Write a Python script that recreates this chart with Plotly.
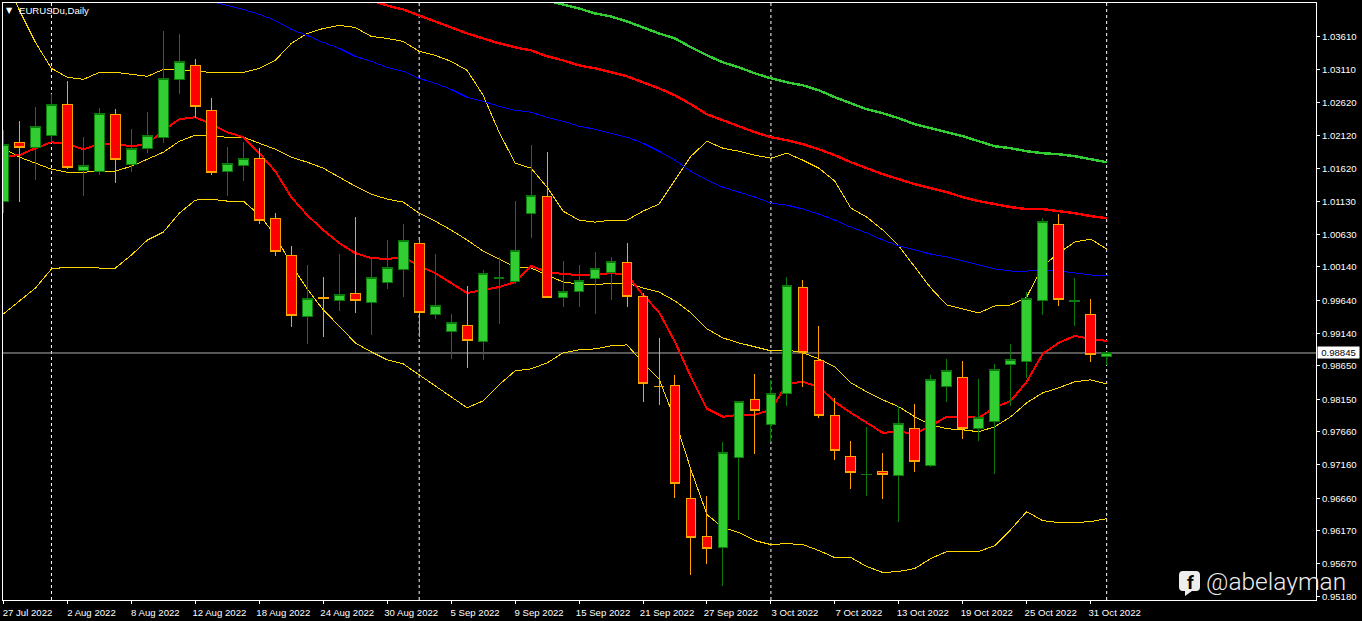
import plotly.graph_objects as go

# Daily EURUSD bars
opens = [1.01131,1.02017,1.01942,1.02123,1.02588,1.01596,1.01581,1.02438,1.01687,1.01927,
         1.02093,1.02964,1.03174,1.02498,1.01581,1.01672,1.01777,1.00875,1.00319,0.99388,
         0.99674,0.99628,0.99733,0.99598,0.99913,1.00109,1.00500,0.99418,0.99162,0.99252,
         0.99012,0.99973,0.99928,1.00950,1.01206,0.99673,0.99778,0.99959,1.00064,1.00214,
         0.99688,0.98337,0.98351,0.96653,0.96082,0.95916,0.97269,0.98140,0.97765,0.98230,
         0.99838,0.98726,0.97900,0.97284,0.97012,0.97058,0.96998,0.97705,0.97149,0.98336,
         0.98471,0.97705,0.97810,0.98666,0.98711,0.99628,1.00785,0.99627,0.99418,0.98787]
highs = [1.02198,1.02333,1.02543,1.02739,1.02934,1.02093,1.02528,1.02513,1.02213,1.02468,
         1.03685,1.03640,1.03265,1.02679,1.01942,1.02017,1.01927,1.00950,1.00455,1.00169,
         0.99989,1.00334,1.00890,1.00274,1.00545,1.00785,1.00545,1.00334,0.99433,0.99853,
         1.00094,1.00289,1.01131,1.01972,1.01867,1.00229,1.00169,1.00364,1.00289,1.00500,
         0.99748,0.99072,0.98516,0.97088,0.96698,0.97509,0.98110,0.98531,0.98441,0.99989,
         0.99943,0.99252,0.98170,0.97524,0.97735,0.97344,0.98050,0.98080,0.98516,0.98757,
         0.98726,0.98456,0.98681,0.98982,0.99763,1.00875,1.00935,0.99974,0.99658,0.98847]
lows = [1.00950,1.01116,1.01446,1.02017,1.01612,1.01206,1.01521,1.01401,1.01566,1.01852,
        1.02002,1.02739,1.02378,1.01521,1.01206,1.01431,1.00785,1.00304,0.99237,0.98982,
        0.99087,0.99478,0.99448,0.99117,0.99808,0.99688,0.99087,0.99358,0.98757,0.98621,
        0.98741,0.99282,0.99883,1.00575,0.99673,0.99538,0.99538,0.99433,0.99643,0.99538,
        0.98110,0.98065,0.96668,0.95496,0.95676,0.95345,0.96337,0.97329,0.97509,0.98050,
        0.98336,0.97870,0.97239,0.96803,0.96698,0.96653,0.96307,0.97058,0.97134,0.98110,
        0.97554,0.97524,0.97028,0.98050,0.98471,0.99418,0.99553,0.99252,0.98711,0.98666]
closes = [1.01987,1.01942,1.02258,1.02588,1.01642,1.01672,1.02453,1.01762,1.01927,1.02123,
          1.02979,1.03234,1.02558,1.01566,1.01702,1.01777,1.00845,1.00379,0.99403,0.99658,
          0.99672,0.99718,0.99628,0.99974,1.00139,1.00545,0.99448,0.99553,0.99297,0.99027,
          1.00049,0.99975,1.00394,1.01221,0.99673,0.99778,0.99943,1.00124,1.00229,0.99688,
          0.98381,0.98335,0.96878,0.96067,0.95901,0.97344,0.98110,0.97975,0.98230,0.99868,
          0.98847,0.97900,0.97374,0.97043,0.97014,0.97013,0.97780,0.97209,0.98441,0.98576,
          0.97705,0.97870,0.98591,0.98741,0.99658,1.00830,0.99643,0.99629,0.98817,0.98845]

# Indicator lines, one value per bar
fast_ma = [1.01807,1.01822,1.01927,1.02017,1.01987,1.01912,1.01987,1.01987,1.01957,1.01987,
           1.02198,1.02363,1.02393,1.02288,1.02168,1.02093,1.01852,1.01581,1.01191,1.00920,
           1.00695,1.00500,1.00349,1.00274,1.00259,1.00289,1.00154,1.00049,0.99898,0.99748,
           0.99793,0.99838,0.99913,1.00154,1.00064,1.00034,1.00019,1.00019,1.00049,1.00019,
           0.99718,0.99463,0.99012,0.98486,0.98005,0.97885,0.97915,0.97915,0.97990,0.98381,
           0.98411,0.98336,0.98110,0.97945,0.97795,0.97644,0.97659,0.97629,0.97750,0.97885,
           0.97885,0.97870,0.98020,0.98125,0.98411,0.98832,0.98997,0.99102,0.99057,0.99027]
bb_upper = [1.04527,1.04001,1.03520,1.03129,1.02994,1.02964,1.03069,1.03069,1.03039,1.03009,
            1.03114,1.03114,1.03084,1.03069,1.03069,1.03069,1.03129,1.03249,1.03505,1.03655,
            1.03730,1.03775,1.03745,1.03610,1.03580,1.03535,1.03385,1.03325,1.03234,1.03099,
            1.02724,1.02168,1.01702,1.01627,1.01341,1.00980,1.00845,1.00815,1.00845,1.00845,
            1.00980,1.01086,1.01446,1.01807,1.02032,1.01927,1.01882,1.01822,1.01777,1.01852,
            1.01747,1.01627,1.01431,1.01026,1.00890,1.00695,1.00455,1.00139,0.99823,0.99568,
            0.99508,0.99448,0.99553,0.99568,0.99688,1.00154,1.00349,1.00515,1.00560,1.00410]
bb_mid = [1.01927,1.01792,1.01702,1.01612,1.01566,1.01566,1.01581,1.01581,1.01657,1.01762,
          1.01867,1.02032,1.02123,1.02108,1.02093,1.02093,1.02002,1.01912,1.01792,1.01717,
          1.01627,1.01491,1.01356,1.01236,1.01161,1.01116,1.00950,1.00830,1.00695,1.00545,
          1.00379,1.00259,1.00139,1.00124,1.00019,0.99913,0.99883,0.99868,0.99898,0.99898,
          0.99823,0.99763,0.99628,0.99448,0.99207,0.99072,0.98997,0.98937,0.98877,0.98892,
          0.98847,0.98757,0.98636,0.98396,0.98260,0.98140,0.98035,0.97885,0.97765,0.97705,
          0.97689,0.97659,0.97735,0.97885,0.98095,0.98245,0.98320,0.98411,0.98441,0.98381]
bb_lower = [0.99433,0.99628,0.99823,1.00109,1.00139,1.00139,1.00124,1.00124,1.00319,1.00545,
            1.00665,1.00950,1.01146,1.01161,1.01131,1.01131,1.00920,1.00620,1.00169,0.99808,
            0.99493,0.99252,0.98997,0.98862,0.98741,0.98681,0.98516,0.98351,0.98185,0.98020,
            0.98125,0.98366,0.98576,0.98606,0.98696,0.98847,0.98892,0.98907,0.98952,0.98967,
            0.98696,0.98456,0.97840,0.97088,0.96412,0.96217,0.96142,0.96021,0.95961,0.95976,
            0.95961,0.95871,0.95766,0.95766,0.95631,0.95541,0.95556,0.95601,0.95751,0.95856,
            0.95856,0.95856,0.95946,0.96187,0.96457,0.96322,0.96292,0.96292,0.96307,0.96352]
# These three leave the top of the frame, so they only cover the later bars
blue_ma = [1.04136,1.04076,1.04016,1.03941,1.03850,1.03715,1.03625,
           1.03520,1.03430,1.03310,1.03234,1.03144,1.03084,1.02979,1.02904,1.02814,1.02694,
           1.02633,1.02558,1.02498,1.02468,1.02393,1.02333,1.02258,1.02213,1.02153,1.02093,
           1.02002,1.01882,1.01747,1.01581,1.01446,1.01341,1.01266,1.01191,1.01101,1.01071,
           1.01011,1.00935,1.00845,1.00740,1.00650,1.00545,1.00455,1.00394,1.00334,1.00289,
           1.00229,1.00169,1.00109,1.00079,1.00079,1.00094,1.00079,1.00049,1.00019,1.00004]
slow_red_ma = [1.04151,1.04076,1.04016,1.03926,1.03835,1.03745,1.03655,
               1.03580,1.03505,1.03445,1.03400,1.03310,1.03249,1.03174,1.03129,1.03069,1.03009,
               1.02919,1.02829,1.02724,1.02588,1.02438,1.02348,1.02258,1.02168,1.02093,1.02047,
               1.01987,1.01912,1.01822,1.01717,1.01627,1.01536,1.01461,1.01386,1.01326,1.01266,
               1.01191,1.01131,1.01086,1.01041,1.01011,1.01011,1.00980,1.00950,1.00905,1.00875]
green_ma = [1.04151,1.04091,1.04031,1.03956,1.03910,1.03835,1.03745,1.03655,
            1.03580,1.03445,1.03325,1.03219,1.03144,1.03054,1.02979,1.02919,
            1.02874,1.02799,1.02694,1.02603,1.02513,1.02453,1.02378,1.02288,1.02228,1.02168,
            1.02108,1.02032,1.01957,1.01927,1.01882,1.01852,1.01837,1.01807,1.01762,1.01717]

x_tick_labels = ["27 Jul 2022","2 Aug 2022","8 Aug 2022","12 Aug 2022","18 Aug 2022","24 Aug 2022",
                 "30 Aug 2022","5 Sep 2022","9 Sep 2022","15 Sep 2022","21 Sep 2022","27 Sep 2022",
                 "3 Oct 2022","7 Oct 2022","13 Oct 2022","19 Oct 2022","25 Oct 2022","31 Oct 2022"]
y_ticks = [1.03610,1.03110,1.02620,1.02120,1.01620,1.01130,1.00630,1.00140,0.99640,0.99140,
           0.98650,0.98150,0.97660,0.97160,0.96660,0.96170,0.95670,0.95180]
separator_bars = [3, 26, 48, 69]
last_price = 0.98845

bars = list(range(len(opens)))
x_ticks = bars[0::4]
X_RANGE = [-0.03125, 82.094]
Y_RANGE = [0.95127, 1.04113]

FONT = "Liberation Sans"
FONT_SIZE = 9.6
fig = go.Figure()


def line(values, color, width, name):
    fig.add_trace(go.Scatter(x=bars[-len(values):], y=values, mode="lines", name=name,
                             line=dict(color=color, width=width), hoverinfo="skip"))


line(bb_upper, "#FFD700", 1, "BB upper")
line(bb_mid, "#FFD700", 1, "BB middle")
line(bb_lower, "#FFD700", 1, "BB lower")
line(blue_ma, "#0000FF", 1, "MA blue")
line(slow_red_ma, "#FF0000", 2.4, "MA red slow")
line(green_ma, "#32CD32", 2.4, "MA green")
line(fast_ma, "#FF0000", 2, "MA red fast")

fig.add_trace(go.Candlestick(
    x=bars, open=opens, high=highs, low=lows, close=closes, name="EURUSDu",
    xaxis="x2", yaxis="y2", whiskerwidth=0,
    increasing=dict(fillcolor="#32CD32", line=dict(color="#0A7A0A", width=1)),
    decreasing=dict(fillcolor="#FF0000", line=dict(color="#FFA500", width=1)),
))

shapes = [dict(type="line", xref="x", yref="paper", x0=b, x1=b, y0=0, y1=1, layer="below",
               line=dict(color="white", width=1, dash="3px,3px")) for b in separator_bars]
shapes.append(dict(type="line", xref="paper", yref="y", x0=0, x1=1, y0=last_price, y1=last_price,
                   layer="below", line=dict(color="#B0B0B0", width=1)))
# Facebook badge of the watermark
shapes.append(dict(type="path", xref="paper", yref="paper", xsizemode="pixel", ysizemode="pixel",
                   xanchor=1, yanchor=0, fillcolor="#EDEDED", line=dict(width=0),
                   path="M -133 29 L -120 29 Q -116 29 -116 25 L -116 13 Q -116 9 -120 9 L -124 9 "
                        "L -131 4 L -131 9 L -133 9 Q -137 9 -137 13 L -137 25 Q -137 29 -133 29 Z"))

axis_common = dict(showline=True, mirror=True, linecolor="white", linewidth=1, showgrid=False,
                   zeroline=False, ticks="outside", ticklen=3, tickcolor="white", tickwidth=1,
                   automargin=False, tickfont=dict(family=FONT, size=FONT_SIZE, color="white"))
annotations = [
    dict(text="▼", xref="paper", yref="paper", x=(9.5 - 2.5) / 1314, y=1 - (10.5 - 2.5) / 598,
         xanchor="center", yanchor="middle", showarrow=False, font=dict(family="DejaVu Sans", size=8, color="white")),
    dict(text="EURUSDu,Daily", xref="paper", yref="paper", x=(17.5 - 2.5) / 1314, y=1 - (10.5 - 2.5) / 598,
         xanchor="left", yanchor="middle", showarrow=False, borderpad=0,
         font=dict(family=FONT, size=FONT_SIZE, color="white")),
    dict(text=f"{last_price:.5f}", xref="paper", yref="y", x=(1318 - 2.5) / 1314, y=last_price,
         xanchor="left", yanchor="middle", showarrow=False, bgcolor="white", width=41, height=11,
         borderpad=0, align="center", font=dict(family=FONT, size=FONT_SIZE, color="black")),
    dict(text="@abelayman", xref="paper", yref="paper", x=(1347.5 - 2.5) / 1314, y=(600.5 - 581.5) / 598,
         xanchor="right", yanchor="middle", showarrow=False, borderpad=0,
         font=dict(family="Roboto", size=24.5, color="#EDEDED", weight=300)),
    dict(text="<b>f</b>", xref="paper", yref="paper", x=(1190.5 - 2.5) / 1314, y=(600.5 - 583) / 598,
         xanchor="center", yanchor="middle", showarrow=False, borderpad=0,
         font=dict(family="Roboto", size=19, color="black")),
]

fig.update_layout(
    width=1362, height=621, showlegend=False,
    paper_bgcolor="black", plot_bgcolor="black",
    margin=dict(l=2.5, r=45.5, t=2.5, b=20.5, pad=0),
    boxgap=0.2, boxgroupgap=0.24,
    shapes=shapes, annotations=annotations,
    xaxis=dict(range=X_RANGE, tickmode="array", tickvals=x_ticks, ticktext=x_tick_labels,
               ticklabelshift=24, tickangle=0, **axis_common),
    yaxis=dict(range=Y_RANGE, side="right", tickmode="array", tickvals=y_ticks,
               tickformat=".5f", **axis_common),
    xaxis2=dict(range=X_RANGE, overlaying="x", anchor="y2", visible=False, rangeslider=dict(visible=False)),
    yaxis2=dict(range=Y_RANGE, overlaying="y", anchor="x2", visible=False),
)

crisp = ("document.body.style.margin='0';document.body.style.overflow='hidden';"
         "document.documentElement.style.background='black';"
         "document.querySelectorAll('path.js-line, .boxes path').forEach(function(p){p.style.shapeRendering='crispEdges';});")
fig.write_html("out.html", config=dict(displayModeBar=False), post_script=crisp)
